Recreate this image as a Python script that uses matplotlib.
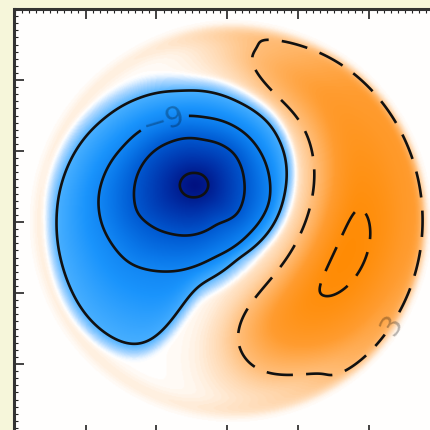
import numpy as np
import matplotlib
matplotlib.use("Agg")
import matplotlib.pyplot as plt
from matplotlib.colors import LinearSegmentedColormap, Normalize
from matplotlib.ticker import MultipleLocator

# contour levels (solid = negative, dashed = positive)
neg_levels = [-21, -15, -9, -3]
pos_levels = [3, 9]
# labelled levels and where their labels sit
label_levels = {-9: '\u22129', 3: '3'}
label_spots = {-9: (-0.9, 1.45), 3: (2.35, -1.45)}

# negative lobe, read as contour radii (data units) around its centre,
# angle in degrees measured from the centre
neg_center = (-0.47, 0.52)
neg_peak = -22.5
m21_ang = [0, 90, 180, -90]
m21_rad = [0.213, 0.177, 0.213, 0.177]
m15_ang = [119.2, 77.5, 38.7, 5.7, -34.9, -58.8, -116.6, -153.8, -175.2]
m15_rad = [0.698, 0.654, 0.726, 0.712, 0.743, 0.630, 0.762, 0.901, 0.854]
m9_ang = [81.5, 112.6, 151.5, -172.8, -157.6, -129.4, -105.8, -74.5, -40.6,
          -13.3, 13.9, 46.1]
m9_rad = [0.960, 0.999, 1.129, 1.359, 1.411, 1.431, 1.252, 1.060, 1.047,
          1.108, 1.067, 1.023]
m3_ang = [-165.7, -146.8, -129.0, -115.1, -105.2, -100.5, -98.2, -88.2, -59.1,
          -30.6, -7.6, 16.8, 40.5, 63.2, 98.6, 123.8, 144.2, 173.3]
m3_rad = [2.006, 2.203, 2.410, 2.475, 2.382, 2.092, 1.691, 1.390, 1.190,
          1.252, 1.288, 1.377, 1.418, 1.352, 1.333, 1.451, 1.574, 1.814]
zero_ang = [180, 135, 90, 45, 0, -45, -90, -100, -105, -120, -135, -150, -165]
zero_rad = [2.128, 1.816, 1.560, 1.603, 1.475, 1.390, 1.645, 2.340, 2.638,
            2.695, 2.582, 2.383, 2.213]
neg_values = [neg_peak, -21, -15, -9, -3, 0]

# positive crescent, a ring around the negative centre
ring_radius = (2.35, 2.0)          # main part / top end
ring_in_width = (0.65, 0.5)        # main part / top end
ring_out_width = (1.1, 0.5, 0.77)  # main part / top end / bottom end
ring_peak_angle = -25.0
ring_base = 6.9
ring_base_width = (95.0, 50.0)     # degrees, ccw side / cw side
ring_bump = 2.7
ring_bump_width = 34.0

# disk
disk_radius = 2.76
rim_value = 0.6

# colour scale
cmap_values = [-23, -19, -15, -11, -7, -3, -1.2, 0, 1, 3, 6, 10]
cmap_colors = ['#000a78', '#0030a8', '#0058d0', '#0a78ea', '#1a94fc', '#48afff',
               '#aed8ff', '#ffffff', '#ffe4c8', '#ffbe7a', '#ff9c30', '#ff8a00']

major_ticks = [-2, -1, 0, 1, 2]


def sig(z):
    return 1.0 / (1.0 + np.exp(-z))


def smooth_radii(ang, rad, sigma=5.0):
    grid = np.arange(-180.0, 180.0, 0.5)
    r = np.interp(grid, ang, rad, period=360)
    n = int(3 * sigma / 0.5)
    k = np.exp(-0.5 * (np.arange(-n, n + 1) * 0.5 / sigma) ** 2)
    k /= k.sum()
    r = np.convolve(np.concatenate([r[-n:], r, r[:n]]), k, mode='valid')
    return grid, r


def negative_lobe(rho, phi):
    knots = [np.zeros_like(rho)]
    for a, r in [(m21_ang, m21_rad), (m15_ang, m15_rad), (m9_ang, m9_rad),
                 (m3_ang, m3_rad), (zero_ang, zero_rad)]:
        g, rs = smooth_radii(a, r)
        knots.append(np.interp(phi, g, rs, period=360))
    out = np.zeros_like(rho)
    for k in range(len(knots) - 1):
        r0, r1 = knots[k], knots[k + 1]
        m = (rho >= r0) & (rho < r1)
        v = neg_values[k] + (neg_values[k + 1] - neg_values[k]) * (rho - r0) / (r1 - r0)
        out[m] = v[m]
    return out


def blur(f, sigma):
    n = int(3 * sigma)
    k = np.exp(-0.5 * (np.arange(-n, n + 1) / sigma) ** 2)
    k /= k.sum()
    f = np.apply_along_axis(lambda m: np.convolve(m, k, mode='same'), 0, f)
    return np.apply_along_axis(lambda m: np.convolve(m, k, mode='same'), 1, f)


def build_field():
    x = np.linspace(-3, 3, 481)
    X, Y = np.meshgrid(x, x)

    dx = X - neg_center[0]
    dy = Y - neg_center[1]
    rho = np.hypot(dx, dy)
    th = np.degrees(np.arctan2(dy, dx))
    field = negative_lobe(rho, th)

    delta = (th - ring_peak_angle + 180) % 360 - 180
    base = np.where(delta >= 0,
                    ring_base * np.exp(-(delta / ring_base_width[0])**4),
                    ring_base * np.exp(-(delta / ring_base_width[1])**4))
    bump = ring_bump * np.exp(-(delta / ring_bump_width)**2)
    top = sig((delta - 65) / 8)
    bot = sig(-(delta + 28) / 5)
    r0 = ring_radius[0] + (ring_radius[1] - ring_radius[0]) * top
    w_in = ring_in_width[0] + (ring_in_width[1] - ring_in_width[0]) * top
    w_out = (ring_out_width[0] + (ring_out_width[1] - ring_out_width[0]) * top
             + (ring_out_width[2] - ring_out_width[0]) * bot)
    w = np.where(rho < r0, w_in, w_out)
    field = field + (base + bump) * np.exp(-((rho - r0) / w)**2)

    r = np.hypot(X, Y)
    taper = 0.5 * (1 - np.tanh((r - disk_radius) / 0.05))
    rim = rim_value * np.exp(-((r - 2.66) / 0.13)**2) * taper
    return X, Y, blur(field * taper + rim, 3.0)


def _save():
    X, Y, f = build_field()

    lo, hi = cmap_values[0], cmap_values[-1]
    nodes = [((v - lo) / (hi - lo), c) for v, c in zip(cmap_values, cmap_colors)]
    cmap = LinearSegmentedColormap.from_list("bo", nodes)
    norm = Normalize(lo, hi)

    fig = plt.figure(figsize=(4.31, 4.31), dpi=100, facecolor='#f6f6da')
    # the frame runs past the right and bottom edges of the picture
    ax = fig.add_axes([14.5 / 431, -5 / 431, 426 / 431, 426 / 431])
    ax.imshow(f, extent=(-3, 3, -3, 3), origin='lower', cmap=cmap, norm=norm,
              interpolation='bilinear')

    for lev in neg_levels + pos_levels:
        style = 'solid' if lev < 0 else (0, (10, 5))
        cs = ax.contour(X, Y, f, levels=[lev], colors='#111111',
                        linewidths=1.9, linestyles=[style])
        if lev in label_levels:
            txt = ax.clabel(cs, fmt={lev: label_levels[lev]}, fontsize=21,
                            inline=True, inline_spacing=4,
                            manual=[label_spots[lev]])
            for t in txt:
                t.set_color('k')
                t.set_alpha(0.28)

    ax.set_xlim(-3, 3)
    ax.set_ylim(-3, 3)
    ax.set_xticks(major_ticks)
    ax.set_yticks(major_ticks)
    ax.xaxis.set_minor_locator(MultipleLocator(0.1))
    ax.yaxis.set_minor_locator(MultipleLocator(0.1))
    ax.tick_params(which='both', direction='in', top=True, right=True,
                   labelbottom=False, labelleft=False, color='#222222')
    ax.tick_params(which='major', length=7, width=1.2)
    ax.tick_params(which='minor', length=3, width=0.8)
    for s in ax.spines.values():
        s.set_linewidth(2.2)
        s.set_color('#333333')

    fig.savefig('out.png', dpi=100, facecolor=fig.get_facecolor())
    plt.close(fig)


if __name__ == "__main__":
    _save()
